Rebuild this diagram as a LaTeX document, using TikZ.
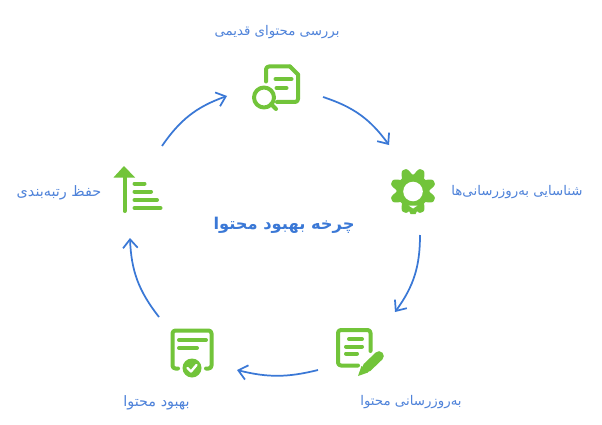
\documentclass[tikz,border=0pt]{standalone}
\usepackage{fontspec}
\setmainfont{DejaVu Sans}
\newfontfamily\arabicfont[Script=Arabic]{DejaVu Sans}
\TeXXeTstate=1
\usetikzlibrary{arrows.meta}
\definecolor{iconGreen}{HTML}{72C43A}
\definecolor{lineBlue}{HTML}{3A78D6}
\definecolor{textBlue}{HTML}{4F83DA}
\tikzset{
  x=0.75pt,y=-0.75pt,
  lbl/.style={text=textBlue,font=\arabicfont\fontsize{10}{12}\selectfont,inner sep=0pt},
  lblb/.style={text=textBlue,font=\arabicfont\fontsize{10.8}{12}\selectfont,inner sep=0pt},
  ttl/.style={text=lineBlue,font=\arabicfont\bfseries\fontsize{12.2}{15}\selectfont,inner sep=0pt},
  conn/.style={draw=lineBlue,line width=1.3pt,-{Straight Barb[length=6.5pt,width=11pt,line width=1.3pt]}},
  ico/.style={draw=iconGreen,line width=3pt,line cap=round,line join=round},
  slot/.style={minimum size=36pt,inner sep=0pt},
}
\begin{document}
\begin{tikzpicture}
\useasboundingbox (0,0) rectangle (602,424);
\fill[white] (0,0) rectangle (602,424);
% labels
\node[lbl] (l1) at (277,32) {\beginR بررسی محتوای قدیمی\endR};
\node[lbl] (l2) at (517,192.5) {\beginR شناسایی به‌روزرسانی‌ها\endR};
\node[lbl] (l3) at (411,402.5) {\beginR به‌روزرسانی محتوا\endR};
\node[lblb] (l4) at (156.5,402.5) {\beginR بهبود محتوا\endR};
\node[lblb] (l5) at (59,192.5) {\beginR حفظ رتبه‌بندی\endR};
\node[ttl] (t) at (284,225.5) {\beginR چرخه بهبود محتوا\endR};
% icon slots
\node[slot] (i1) at (278,88) {};
\node[slot] (i2) at (413,190) {};
\node[slot] (i3) at (360,351) {};
\node[slot] (i4) at (192,351) {};
\node[slot] (i5) at (138,190) {};
% connector ends
\coordinate (a1s) at (162,146); \coordinate (a1e) at (227,96);
\coordinate (a2s) at (323,97);  \coordinate (a2e) at (389,145);
\coordinate (a3s) at (420,235); \coordinate (a3e) at (395,312);
\coordinate (a4s) at (318,370); \coordinate (a4e) at (237,370);
\coordinate (a5s) at (159,317); \coordinate (a5e) at (130,238);
\draw[conn] (a1s) to[bend left=18] (a1e);
\draw[conn] (a2s) to[bend left=18] (a2e);
\draw[conn] (a3s) to[bend left=18] (a3e);
\draw[conn] (a4s) to[bend left=14] (a4e);
\draw[conn] (a5s) to[bend left=18] (a5e);
% icon 1
\draw[ico,rounded corners=2.2pt] (266,81.5) -- (266,66.5) -- (290,66.5);
\draw[ico] (290,66.5) -- (298,74.5);
\draw[ico,rounded corners=2.2pt] (298,74.5) -- (298,102) -- (277,102);
\draw[ico] (275.5,79) -- (291.5,79);
\draw[ico] (276.5,88) -- (286.5,88);
\draw[ico] (264,97.5) circle[radius=10];
\draw[ico] (271,104) -- (276,109);
% icon 2 gear
\fill[iconGreen,draw=iconGreen,line width=1.2pt,line join=round]
  plot[samples=193,domain=0:360,variable=\a]
   ({413+(19.0+3.2*max(-1,min(1,1.25*cos(8*(\a+22.5)))))*cos(\a)},{191+(19.0+3.2*max(-1,min(1,1.25*cos(8*(\a+22.5)))))*sin(\a)}) -- cycle;
\fill[white] (413,191.5) circle[radius=9.8];
\fill[iconGreen] (406,205) -- (420,205) -- (415.5,214) -- (410.5,214) -- cycle;
\fill[white] (408.5,205.5) -- (417.5,205.5) -- (413,208.5) -- cycle;
% icon 3 doc + pencil
\draw[ico,rounded corners=2.2pt] (358,365.5) -- (338,365.5) -- (338,330) -- (370.5,330) -- (370.5,351);
\draw[ico] (349,339) -- (362,339);
\draw[ico] (346,346.5) -- (362,346.5);
\draw[ico] (346,353.5) -- (357,353.5);
\draw[iconGreen,line width=7.2pt,line cap=round] (379,356) -- (367,367.5);
\fill[iconGreen] (358,376) -- (361.5,366) -- (368,372.5) -- cycle;
% icon 4 certificate
\draw[ico,rounded corners=2.2pt] (178,368.5) -- (172.5,368.5) -- (172.5,330.5) -- (211.5,330.5) -- (211.5,368.5) -- (206,368.5);
\draw[ico] (179,340) -- (206,340);
\draw[ico] (179,348) -- (197,348);
\fill[iconGreen] (192,368) circle[radius=9.5];
\draw[white,line width=1.8pt,line cap=round,line join=round] (187.5,368) -- (191,371.5) -- (196.5,365);
% icon 5 arrow + bars
\fill[iconGreen] (124,166) -- (135,177.5) -- (113.5,177.5) -- cycle;
\draw[ico] (124.5,176) -- (124.5,211);
\draw[ico] (134.5,183.5) -- (144.5,183.5);
\draw[ico] (134.5,191.5) -- (151,191.5);
\draw[ico] (134.5,200) -- (157,200);
\draw[ico] (134.5,208) -- (160.5,208);
\end{tikzpicture}
\end{document}
